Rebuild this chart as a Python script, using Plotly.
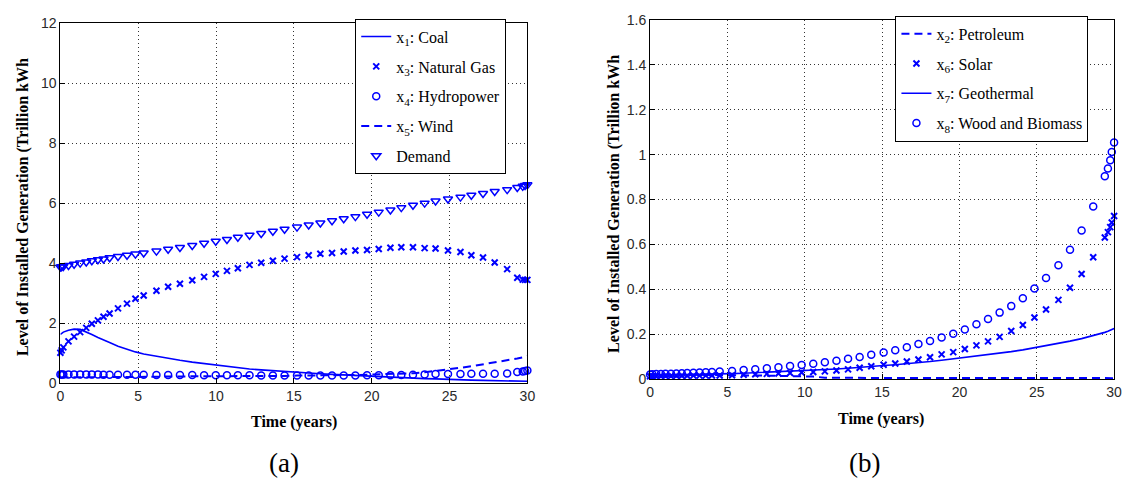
import plotly.graph_objects as go

# ---------------- Data: panel (a) ----------------
t_a = [0, 0.08, 0.19, 0.52, 0.88, 1.27, 1.66, 2.02, 2.41, 2.77, 3.16, 3.7, 4.28, 4.82, 5.35,
       6.17, 6.92, 7.68, 8.47, 9.23, 9.98, 10.7, 11.4, 12.15, 12.9, 13.65, 14.4, 15.2, 15.95,
       16.7, 17.45, 18.2, 18.95, 19.7, 20.45, 21.2, 21.9, 22.65, 23.4, 24.1, 24.9, 25.7, 26.4,
       27.15, 27.9, 28.7, 29.35, 29.7, 29.85, 30]

coal = [1.63, 1.67, 1.71, 1.77, 1.81, 1.80, 1.72, 1.63, 1.53, 1.44, 1.36, 1.24, 1.13, 1.05, 0.98,
        0.90, 0.83, 0.77, 0.71, 0.66, 0.61, 0.56, 0.52, 0.48, 0.45, 0.42, 0.39, 0.36, 0.34,
        0.32, 0.30, 0.28, 0.26, 0.24, 0.22, 0.21, 0.19, 0.18, 0.16, 0.15, 0.13, 0.12, 0.11,
        0.10, 0.09, 0.08, 0.07, 0.07, 0.07, 0.07]

natural_gas = [1.02, 1.10, 1.20, 1.40, 1.56, 1.71, 1.85, 1.99, 2.10, 2.22, 2.33, 2.50, 2.66, 2.82, 2.93,
               3.09, 3.22, 3.32, 3.44, 3.55, 3.65, 3.75, 3.84, 3.95, 4.02, 4.09, 4.16, 4.21, 4.27,
               4.32, 4.35, 4.40, 4.43, 4.45, 4.48, 4.52, 4.54, 4.54, 4.51, 4.50, 4.43, 4.38, 4.27,
               4.20, 4.03, 3.81, 3.52, 3.46, 3.45, 3.45]

hydropower = [0.30, 0.30, 0.30, 0.30, 0.30, 0.30, 0.30, 0.30, 0.30, 0.29, 0.29, 0.29, 0.29, 0.29, 0.29,
              0.28, 0.28, 0.28, 0.28, 0.27, 0.27, 0.27, 0.27, 0.27, 0.26, 0.26, 0.26, 0.26, 0.26,
              0.26, 0.26, 0.26, 0.26, 0.27, 0.27, 0.27, 0.28, 0.29, 0.30, 0.31, 0.31, 0.31, 0.32,
              0.32, 0.32, 0.33, 0.38, 0.40, 0.41, 0.43]

wind = [0.20, 0.20, 0.20, 0.20, 0.20, 0.21, 0.21, 0.21, 0.21, 0.21, 0.21, 0.22, 0.22, 0.22, 0.22,
        0.22, 0.23, 0.23, 0.23, 0.23, 0.24, 0.24, 0.24, 0.24, 0.25, 0.25, 0.25, 0.26, 0.26,
        0.26, 0.27, 0.27, 0.28, 0.29, 0.30, 0.31, 0.32, 0.34, 0.37, 0.41, 0.47, 0.52, 0.57,
        0.63, 0.69, 0.76, 0.83, 0.87, 0.89, 0.91]

demand = [3.88, 3.89, 3.90, 3.93, 3.97, 4.01, 4.05, 4.09, 4.12, 4.15, 4.19, 4.23, 4.27, 4.31, 4.35,
          4.41, 4.47, 4.53, 4.60, 4.67, 4.74, 4.80, 4.87, 4.94, 5.00, 5.07, 5.14, 5.21, 5.28,
          5.35, 5.42, 5.49, 5.56, 5.64, 5.71, 5.78, 5.86, 5.94, 6.01, 6.08, 6.15, 6.21, 6.27,
          6.33, 6.40, 6.46, 6.53, 6.57, 6.60, 6.62]

# ---------------- Data: panel (b) ----------------
t_b = [0, 0.15, 0.4, 0.7, 1.0, 1.35, 1.7, 2.05, 2.4, 2.8, 3.2, 3.6, 4.0, 4.5, 5.3, 6.05, 6.8,
       7.55, 8.3, 9.05, 9.8, 10.55, 11.3, 12.05, 12.8, 13.55, 14.3, 15.1, 15.85, 16.6, 17.35,
       18.1, 18.85, 19.6, 20.35, 21.1, 21.85, 22.6, 23.35, 24.1, 24.85, 25.6, 26.4, 27.15,
       27.9, 28.65, 29.4, 29.6, 29.75, 29.85, 30]

petroleum = [0.022, 0.022, 0.022, 0.021, 0.021, 0.021, 0.020, 0.020, 0.020, 0.019, 0.019, 0.019, 0.018,
             0.018, 0.017, 0.016, 0.015, 0.015, 0.014, 0.013, 0.012, 0.011, 0.006, 0.005, 0.005,
             0.005, 0.005, 0.005, 0.005, 0.005, 0.005, 0.005, 0.005, 0.005, 0.005, 0.005, 0.005,
             0.005, 0.005, 0.004, 0.004, 0.004, 0.004, 0.004, 0.004, 0.004, 0.004, 0.004, 0.004,
             0.004, 0.004]

solar = [0.012, 0.012, 0.012, 0.013, 0.013, 0.013, 0.014, 0.014, 0.014, 0.015, 0.015, 0.015, 0.016,
         0.016, 0.017, 0.019, 0.021, 0.023, 0.025, 0.027, 0.029, 0.031, 0.034, 0.038, 0.043,
         0.050, 0.057, 0.064, 0.069, 0.078, 0.087, 0.097, 0.110, 0.120, 0.134, 0.150, 0.168,
         0.188, 0.214, 0.241, 0.274, 0.310, 0.353, 0.407, 0.468, 0.543, 0.631, 0.655, 0.677,
         0.698, 0.727]

geothermal = [0.018, 0.018, 0.018, 0.019, 0.019, 0.019, 0.020, 0.020, 0.020, 0.021, 0.021, 0.022, 0.022,
              0.023, 0.024, 0.026, 0.028, 0.030, 0.032, 0.034, 0.036, 0.039, 0.042, 0.045, 0.048,
              0.051, 0.055, 0.060, 0.064, 0.068, 0.073, 0.078, 0.084, 0.090, 0.096, 0.102, 0.108,
              0.115, 0.122, 0.130, 0.139, 0.148, 0.158, 0.169, 0.180, 0.193, 0.208, 0.213, 0.217,
              0.220, 0.225]

wood_biomass = [0.020, 0.021, 0.022, 0.022, 0.023, 0.024, 0.025, 0.026, 0.027, 0.028, 0.029, 0.030, 0.031,
                0.033, 0.036, 0.040, 0.044, 0.048, 0.053, 0.058, 0.063, 0.068, 0.075, 0.082, 0.090,
                0.098, 0.108, 0.118, 0.128, 0.142, 0.156, 0.170, 0.185, 0.202, 0.221, 0.244, 0.268,
                0.296, 0.325, 0.360, 0.404, 0.450, 0.507, 0.576, 0.662, 0.769, 0.904, 0.939, 0.975,
                1.012, 1.054]

x_ticks = [0, 5, 10, 15, 20, 25, 30]
y_ticks_a = [0, 2, 4, 6, 8, 10, 12]
y_ticks_b = [0, 0.2, 0.4, 0.6, 0.8, 1.0, 1.2, 1.4, 1.6]

BLUE = "rgb(0,0,255)"
SERIF = "Liberation Serif"
SANS = "Liberation Sans"

fig = go.Figure()

# Panel (a)
fig.add_trace(go.Scatter(x=t_a, y=coal, mode="lines", name="x<sub>1</sub>: Coal", legendgroup="a1",
                         line=dict(color=BLUE, width=1.6), xaxis="x", yaxis="y", legend="legend"))
fig.add_trace(go.Scatter(x=t_a, y=natural_gas, mode="markers", name="x<sub>3</sub>: Natural Gas", legendgroup="a2",
                         marker=dict(symbol="x-thin", size=6, color=BLUE, line=dict(color=BLUE, width=2)),
                         cliponaxis=False, xaxis="x", yaxis="y", legend="legend"))
fig.add_trace(go.Scatter(x=t_a, y=hydropower, mode="markers", name="x<sub>4</sub>: Hydropower", legendgroup="a3",
                         marker=dict(symbol="circle-open", size=7, color=BLUE, line=dict(color=BLUE, width=1.5)),
                         cliponaxis=False, xaxis="x", yaxis="y", legend="legend"))
fig.add_trace(go.Scatter(x=t_a, y=wind, mode="lines", name="x<sub>5</sub>: Wind", legendgroup="a4",
                         line=dict(color=BLUE, width=2, dash="8px,5px"), xaxis="x", yaxis="y", legend="legend"))
fig.add_trace(go.Scatter(x=t_a, y=demand, mode="markers", name="Demand", legendgroup="a5",
                         marker=dict(symbol="triangle-down-open", size=8, color=BLUE, line=dict(color=BLUE, width=1.5)),
                         cliponaxis=False, xaxis="x", yaxis="y", legend="legend"))

# Panel (b)
fig.add_trace(go.Scatter(x=t_b, y=petroleum, mode="lines", name="x<sub>2</sub>: Petroleum", legendgroup="b1",
                         line=dict(color=BLUE, width=2, dash="8px,5px"), xaxis="x2", yaxis="y2", legend="legend2"))
fig.add_trace(go.Scatter(x=t_b, y=solar, mode="markers", name="x<sub>6</sub>: Solar", legendgroup="b2",
                         marker=dict(symbol="x-thin", size=6, color=BLUE, line=dict(color=BLUE, width=2)),
                         cliponaxis=False, xaxis="x2", yaxis="y2", legend="legend2"))
fig.add_trace(go.Scatter(x=t_b, y=geothermal, mode="lines", name="x<sub>7</sub>: Geothermal", legendgroup="b3",
                         line=dict(color=BLUE, width=1.6), xaxis="x2", yaxis="y2", legend="legend2"))
fig.add_trace(go.Scatter(x=t_b, y=wood_biomass, mode="markers", name="x<sub>8</sub>: Wood and Biomass", legendgroup="b4",
                         marker=dict(symbol="circle-open", size=7, color=BLUE, line=dict(color=BLUE, width=1.5)),
                         cliponaxis=False, xaxis="x2", yaxis="y2", legend="legend2"))

W, H = 1131, 492


def px_x(p):
    return p / W


def px_y(p):
    return 1 - p / H


axis_common = dict(
    showline=True, linecolor="black", linewidth=1, mirror=True,
    ticks="inside", ticklen=5, tickcolor="black", tickwidth=1,
    showgrid=True, gridcolor="#333333", gridwidth=1, griddash="1px,3px",
    zeroline=False,
    tickfont=dict(family=SANS, size=14, color="#2a2a2a"),
)

legend_common = dict(xanchor="left", yanchor="top",
                     bgcolor="white", bordercolor="black", borderwidth=1,
                     font=dict(family=SERIF, size=16, color="black"),
                     traceorder="grouped", tracegroupgap=6)

fig.update_layout(
    width=W, height=H,
    margin=dict(l=0, r=0, t=0, b=0),
    paper_bgcolor="white", plot_bgcolor="white",
    showlegend=True,
    xaxis=dict(domain=[px_x(57), px_x(529)], range=[0, 30], tickvals=x_ticks, anchor="y", **axis_common),
    yaxis=dict(domain=[px_y(388), px_y(16)], range=[0, 12], tickvals=y_ticks_a, anchor="x", **axis_common),
    xaxis2=dict(domain=[px_x(653), px_x(1122)], range=[0, 30], tickvals=x_ticks, anchor="y2", **axis_common),
    yaxis2=dict(domain=[px_y(383.5), px_y(12.5)], range=[0, 1.6], tickvals=y_ticks_b, anchor="x2", **axis_common),
    legend=dict(x=px_x(355), y=px_y(11), **legend_common),
    legend2=dict(x=px_x(901), y=px_y(8), **legend_common),
)

ann_font = dict(family=SERIF, size=16, color="black")
annotations = [
    dict(text="<b>Time (years)</b>", x=px_x(293), y=px_y(428), xref="paper", yref="paper",
         showarrow=False, font=ann_font, xanchor="center", yanchor="middle"),
    dict(text="<b>Time (years)</b>", x=px_x(886), y=px_y(425), xref="paper", yref="paper",
         showarrow=False, font=ann_font, xanchor="center", yanchor="middle"),
    dict(text="<b>Level of Installed Generation (Trillion kWh</b>", x=px_x(20), y=px_y(206),
         xref="paper", yref="paper", showarrow=False, font=ann_font, textangle=-90,
         xanchor="center", yanchor="middle"),
    dict(text="<b>Level of Installed Generation (Trillion kWh</b>", x=px_x(617), y=px_y(202),
         xref="paper", yref="paper", showarrow=False, font=ann_font, textangle=-90,
         xanchor="center", yanchor="middle"),
    dict(text="(a)", x=px_x(283), y=px_y(470), xref="paper", yref="paper", showarrow=False,
         font=dict(family=SERIF, size=27, color="black"), xanchor="center", yanchor="middle"),
    dict(text="(b)", x=px_x(870), y=px_y(470), xref="paper", yref="paper", showarrow=False,
         font=dict(family=SERIF, size=27, color="black"), xanchor="center", yanchor="middle"),
]
fig.update_layout(annotations=annotations)

fig.write_html(
    "out.html",
    config={"displayModeBar": False},
    post_script="document.body.style.margin='0';document.body.style.padding='0';",
)
